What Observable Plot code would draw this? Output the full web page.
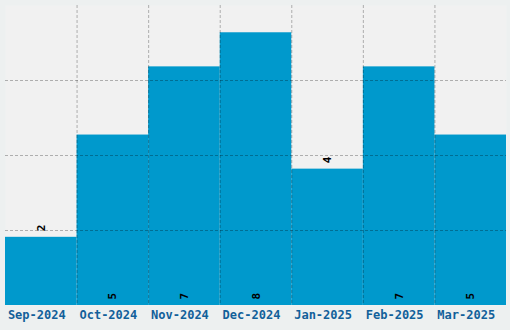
<!DOCTYPE html>
<html><head><meta charset="utf-8">
<script src="https://cdn.jsdelivr.net/npm/d3@7"></script>
<script src="https://cdn.jsdelivr.net/npm/@observablehq/plot@0.6"></script>
<style>
html,body{margin:0;padding:0;background:#edf0f0;}
#chart svg{display:block;background:#edf0f0;}
</style></head>
<body><div id="chart"></div>
<script>
const months = ["Sep-2024","Oct-2024","Nov-2024","Dec-2024","Jan-2025","Feb-2025","Mar-2025"];
const counts = [2,5,7,8,4,7,5];

const data = months.map((m,i)=>({month:m, value:counts[i]}));
const W = 510, H = 330, ML = 5, MR = 4, MT = 5, MB = 25;
const ymax = d3.max(counts) * 1.1;
const gridY = d3.range(1,4).map(i => i * ymax / 4);
const bw = (W - ML - MR) / months.length;
const font = "'DejaVu Sans Mono', monospace";

const chart = Plot.plot({
  width: W, height: H,
  marginLeft: ML, marginRight: MR, marginTop: MT, marginBottom: MB,
  style: {background: "#edf0f0", fontFamily: font},
  x: {domain: months, padding: 0, round: false, label: null},
  y: {domain: [0, ymax], axis: null},
  marks: [
    Plot.frame({fill: "#f1f1f1", stroke: null}),
    Plot.barY(data, {x: "month", y: "value", fill: "#0099cc", inset: 0}),
    Plot.ruleY(gridY, {stroke: "#000", strokeOpacity: 0.28, strokeDasharray: "3,2"}),
    Plot.ruleX(months.slice(1), {x: d => d, dx: -bw/2, stroke: "#000", strokeOpacity: 0.28, strokeDasharray: "3,2"}),
    Plot.text(data, {
      x: "month",
      y: d => d.value <= d3.max(counts)/2 ? d.value : 0,
      text: d => String(d.value),
      rotate: -90, textAnchor: "start", dy: -6,
      fill: "#000", fontSize: 11, fontWeight: "bold", fontFamily: font
    }),
    Plot.axisX({tickSize: 0, tickPadding: 5, dx: -4.5, fontSize: 12, fontWeight: "bold", fill: "#12609a", fontFamily: font, label: null})
  ]
});
document.getElementById("chart").appendChild(chart);
</script></body></html>
